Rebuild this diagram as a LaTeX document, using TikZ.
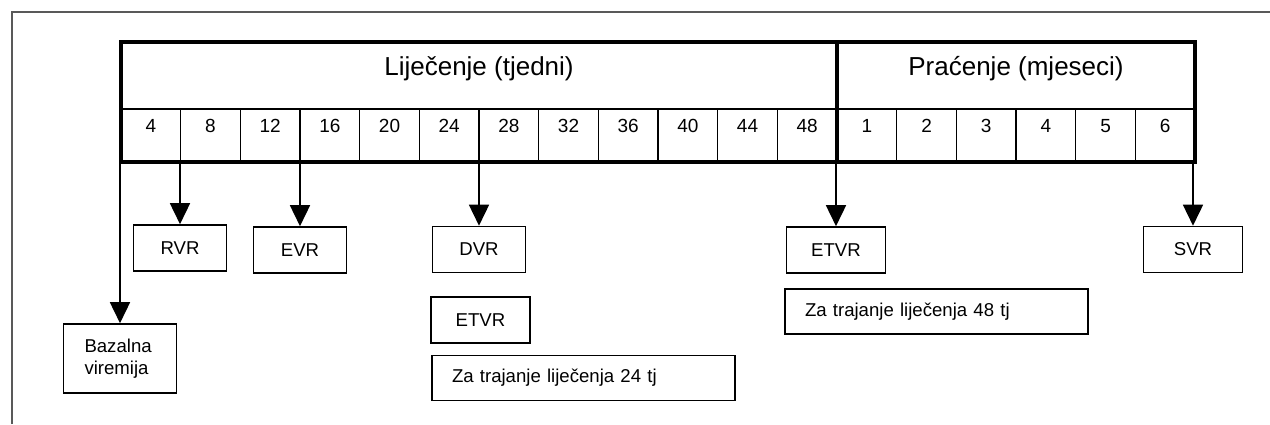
\documentclass[tikz,border=0pt]{standalone}
\usepackage{fontspec}
\setmainfont{Liberation Sans}
\usetikzlibrary{arrows.meta}

\begin{document}
\begin{tikzpicture}
	[x=1pt, y=-1pt,
	every node/.style={inner sep=0pt},
	box/.style={draw, line width=1.6pt, minimum width=93pt, minimum height=46pt, font=\fontsize{18.6}{22}\selectfont},
	longbox/.style={box, minimum width=303pt, minimum height=45pt, text width=263pt, align=left, inner xsep=20pt},
	num/.style={anchor=base, font=\fontsize{19}{22}\selectfont},
	head/.style={anchor=base, font=\fontsize{26}{30}\selectfont},
	arr/.style={-{Triangle[width=20pt,length=21pt]}, line width=1.6pt}]
	\useasboundingbox (0,0) rectangle (1270,424);
	\draw[line width=1.5pt, black!65] (12,424) -- (12,12) -- (1270,12);
	
	% table
	\draw[line width=1.5pt] foreach \k in {1,...,17} {({121+\k*59.67},109) -- ({121+\k*59.67},162)};
	\draw[line width=2pt] (121,109) -- (1195,109);
	\draw[line width=4pt] (837,42) -- (837,162);
	\draw[line width=4pt] (121,42) rectangle (1195,162);
	\node[head] (lij) at (479,75) {Liječenje (tjedni)};
	\node[head] (pra) at (1016,75) {Praćenje (mjeseci)};
	\foreach \n [count=\i] in {4,8,12,16,20,24,28,32,36,40,44,48,1,2,3,4,5,6}
		\node[num] (c\i) at ({121+(\i-0.5)*59.67},132) {\n};
	
	% boxes
	\node[box] (rvr) at (180,248) {RVR};
	\node[box] (evr) at (300,250) {EVR};
	\node[box] (dvr) at (479,249.5) {DVR};
	\node[box, minimum width=99pt] (etvr24) at (480.5,320) {ETVR};
	\node[longbox] (tj24) at (583.5,378) {Za trajanje liječenja 24 tj};
	\node[box, minimum width=99pt] (etvr48) at (836,250) {ETVR};
	\node[longbox] (tj48) at (936.5,311.5) {Za trajanje liječenja 48 tj};
	\node[box, minimum width=99pt] (svr) at (1193,249.5) {SVR};
	\node[box, minimum width=113pt, minimum height=69pt, text width=71pt, align=left, inner xsep=21pt] (bazal) at (120,358.5) {Bazalna\\viremija};
	
	\coordinate (tb) at (0,162);
	\foreach \b in {bazal, rvr, evr, dvr, etvr48, svr}
		\draw[arr] (\b.north |- tb) -- (\b.north);
\end{tikzpicture}
\end{document}
